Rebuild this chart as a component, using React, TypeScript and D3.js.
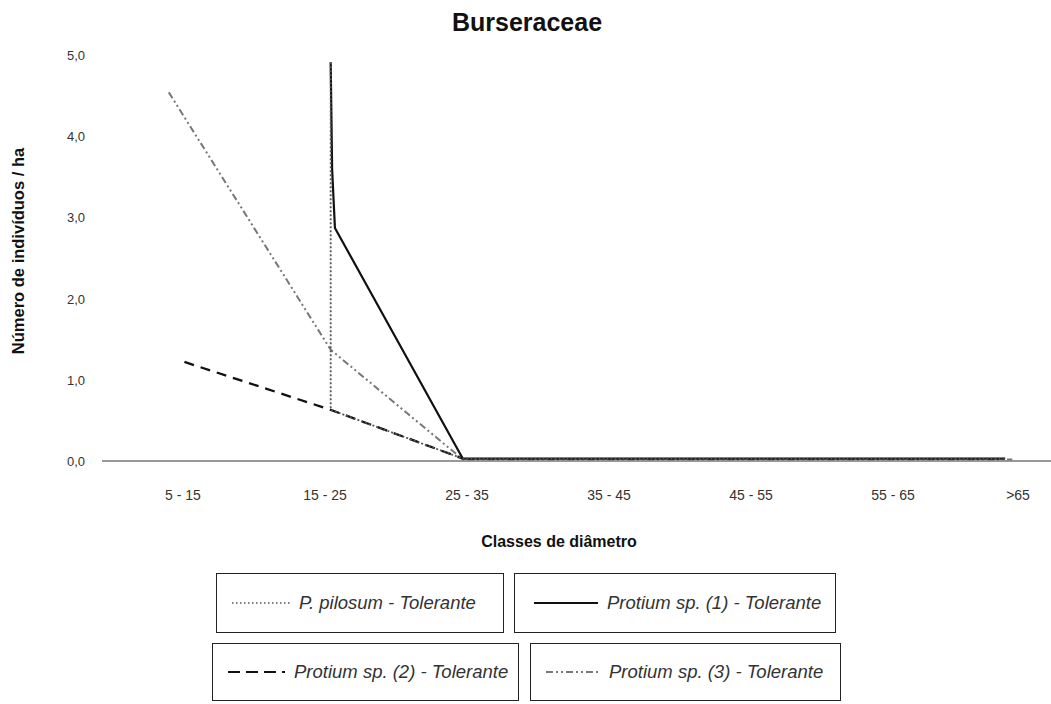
import React, { useEffect, useRef } from 'react';
import * as d3 from 'd3';

// diameter classes (tick labels)
const classes = ['5 - 15', '15 - 25', '25 - 35', '35 - 45', '45 - 55', '55 - 65', '>65'];
const yTicks = [0, 1, 2, 3, 4, 5];

// series: x in class units (0 = "5 - 15"), y = individuals/ha
const pPilosumX = [1.04, 1.04, 1.97, 5.79];
const pPilosumY = [4.91, 0.63, 0.03, 0.03];

const protium1X = [1.04, 1.05, 1.07, 1.97, 5.79];
const protium1Y = [4.91, 3.6, 2.87, 0.03, 0.03];

const protium2X = [0.01, 1.04, 1.97];
const protium2Y = [1.22, 0.63, 0.03];

const protium3X = [-0.1, 1.04, 1.97, 5.84];
const protium3Y = [4.54, 1.37, 0.02, 0.02];

const seriesNames = [
  'P. pilosum - Tolerante',
  'Protium sp. (1) -  Tolerante',
  'Protium sp. (2) - Tolerante',
  'Protium sp. (3) - Tolerante',
];

const W = 1051;
const H = 704;

export default function App() {
  const svgRef = useRef<SVGSVGElement>(null);

  useEffect(() => {
    if (!svgRef.current) return;
    const svg = d3.select(svgRef.current);
    svg.selectAll('*').remove();

    const font = '"Liberation Sans", Arial, sans-serif';

    const x = d3.scaleLinear().domain([0, 6]).range([183, 1035]);
    const y = d3.scaleLinear().domain([0, 5]).range([461, 55]);

    // title
    svg.append('text')
      .attr('x', 527).attr('y', 31)
      .attr('text-anchor', 'middle')
      .attr('font-family', font).attr('font-size', 25).attr('font-weight', 'bold')
      .attr('fill', '#111')
      .text('Burseraceae');

    // y tick labels
    svg.append('g').selectAll('text').data(yTicks).join('text')
      .attr('x', 85).attr('y', d => y(d) + 5)
      .attr('text-anchor', 'end')
      .attr('font-family', font).attr('font-size', 13).attr('fill', '#333')
      .text(d => d3.format('.1f')(d).replace('.', ','));

    // y title
    svg.append('text')
      .attr('transform', 'translate(24,251) rotate(-90)')
      .attr('text-anchor', 'middle')
      .attr('font-family', font).attr('font-size', 16.5).attr('font-weight', 'bold')
      .attr('fill', '#111')
      .text('Número de indivíduos / ha');

    // x axis line
    svg.append('line')
      .attr('x1', 102).attr('x2', W)
      .attr('y1', y(0)).attr('y2', y(0))
      .attr('stroke', '#999').attr('stroke-width', 2);

    // x tick labels (last one pulled inside the frame, like the original)
    svg.append('g').selectAll('text').data(classes).join('text')
      .attr('x', (d, i) => Math.min(x(i), 1018))
      .attr('y', 500)
      .attr('text-anchor', 'middle')
      .attr('font-family', font).attr('font-size', 14).attr('fill', '#333')
      .text(d => d);

    // x title
    svg.append('text')
      .attr('x', 559).attr('y', 547)
      .attr('text-anchor', 'middle')
      .attr('font-family', font).attr('font-size', 16).attr('font-weight', 'bold')
      .attr('fill', '#111')
      .text('Classes de diâmetro');

    const styles = [
      { color: '#555', width: 1.8, dash: '2,2' },
      { color: '#111', width: 2.2, dash: null },
      { color: '#111', width: 2.3, dash: '10,7' },
      { color: '#777', width: 2, dash: '7,3,2,3,2,3' },
    ];

    const series = [
      { xs: pPilosumX, ys: pPilosumY },
      { xs: protium1X, ys: protium1Y },
      { xs: protium2X, ys: protium2Y },
      { xs: protium3X, ys: protium3Y },
    ];

    const line = d3.line<[number, number]>()
      .x(d => x(d[0]))
      .y(d => y(d[1]));

    // draw order: dash-dot, dashed, solid, dotted on top
    [3, 2, 1, 0].forEach(i => {
      const s = series[i];
      const pts: [number, number][] = s.xs.map((v, j) => [v, s.ys[j]]);
      svg.append('path')
        .datum(pts)
        .attr('fill', 'none')
        .attr('stroke', styles[i].color)
        .attr('stroke-width', styles[i].width)
        .attr('stroke-dasharray', styles[i].dash)
        .attr('stroke-linejoin', 'round')
        .attr('d', line);
    });

    // legend boxes
    const boxes = [
      { x: 216, y: 573, w: 287, h: 59, sx: 232, sw: 58 },
      { x: 514, y: 573, w: 321, h: 59, sx: 534, sw: 64 },
      { x: 212, y: 643, w: 306, h: 57, sx: 228, sw: 57 },
      { x: 530, y: 643, w: 310, h: 57, sx: 546, sw: 54 },
    ];
    boxes.forEach((b, i) => {
      const g = svg.append('g');
      g.append('rect')
        .attr('x', b.x + 0.5).attr('y', b.y + 0.5)
        .attr('width', b.w).attr('height', b.h)
        .attr('fill', '#fff').attr('stroke', '#222').attr('stroke-width', 1);
      const cy = b.y + b.h / 2 + 0.5;
      g.append('line')
        .attr('x1', b.sx).attr('x2', b.sx + b.sw)
        .attr('y1', cy).attr('y2', cy)
        .attr('stroke', i === 0 ? '#555' : styles[i].color)
        .attr('stroke-width', i === 0 ? 1.5 : 2)
        .attr('stroke-dasharray', i === 0 ? '1.5,2.5' : i === 2 ? '12,6' : styles[i].dash);
      g.append('text')
        .attr('x', b.sx + b.sw + 9).attr('y', cy + 6)
        .attr('font-family', font).attr('font-size', 18.5).attr('font-style', 'italic')
        .attr('fill', '#333')
        .text(seriesNames[i]);
    });
  }, []);

  return (
    <svg
      ref={svgRef}
      width={W}
      height={H}
      style={{ position: 'absolute', left: 0, top: 0, background: '#fff' }}
    />
  );
}
